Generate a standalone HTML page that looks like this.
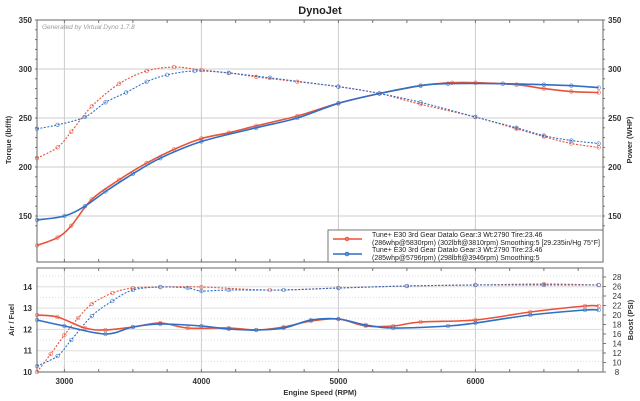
<!DOCTYPE html>
<html><head><meta charset="utf-8"><style>
body{margin:0;background:#fff;}
svg{display:block;font-family:"Liberation Sans",sans-serif;}
</style></head><body>
<svg id="s" width="640" height="401" xmlns="http://www.w3.org/2000/svg"></svg>
<script>
const s=document.getElementById('s');
let h='';
const X=r=>37+(r-2800)*0.137;
const YT=v=>20+(350-v)*0.98;
const L=37,R=603;
// title
h+=`<text x="320" y="14" font-size="11" font-weight="bold" text-anchor="middle" fill="#222">DynoJet</text>`;
// top panel grid
for(let v=150;v<=350;v+=50){let y=YT(v);h+=`<line x1="${L}" x2="${R}" y1="${y}" y2="${y}" stroke="#ccc"/>`;
h+=`<text x="${L-5}" y="${y+3}" font-size="8" font-weight="bold" text-anchor="end" fill="#333">${v}</text>`;
h+=`<text x="${R+5}" y="${y+3}" font-size="8" font-weight="bold" fill="#333">${v}</text>`;}
for(let v=140;v<=350;v+=10){let y=YT(v);h+=`<line x1="${L-2}" x2="${L}" y1="${y}" y2="${y}" stroke="#777"/><line x1="${R}" x2="${R+2}" y1="${y}" y2="${y}" stroke="#777"/>`;}
for(let r=3000;r<=6000;r+=1000){let x=X(r);h+=`<line x1="${x}" x2="${x}" y1="20" y2="262" stroke="#ccc"/><line x1="${x}" x2="${x}" y1="268" y2="372" stroke="#ccc"/>`;}
for(let r=3000;r<=6900;r+=250){let x=X(r);h+=`<line x1="${x}" x2="${x}" y1="20" y2="23" stroke="#777"/><line x1="${x}" x2="${x}" y1="259" y2="262" stroke="#777"/><line x1="${x}" x2="${x}" y1="268" y2="271" stroke="#777"/><line x1="${x}" x2="${x}" y1="369" y2="372" stroke="#777"/>`;}
h+=`<rect x="${L}" y="20" width="${R-L}" height="242" fill="none" stroke="#666"/>`;
h+=`<text x="42" y="29" font-size="6.5" font-style="italic" fill="#999">Generated by Virtual Dyno 1.7.8</text>`;
// bottom panel
const YB=a=>372-(a-10)*21.3;
for(let a=10;a<=14.5;a+=0.5){let y=YB(a);h+=`<line x1="${L}" x2="${R}" y1="${y}" y2="${y}" stroke="#ddd" ${a%1?'stroke-dasharray="1,2"':''}/>`;}
for(let a=10;a<=14;a++){let y=YB(a);h+=`<text x="${L-5}" y="${y+3}" font-size="8" font-weight="bold" text-anchor="end" fill="#333">${a}</text>`;}
for(let b=8;b<=28;b+=2){let y=372-(b-8)*4.75;h+=`<line x1="${R}" x2="${R+3}" y1="${y}" y2="${y}" stroke="#777"/><text x="${R+14}" y="${y+3}" font-size="8" text-anchor="middle" fill="#333">${b}</text>`;}
h+=`<rect x="${L}" y="268" width="${R-L}" height="104" fill="none" stroke="#666"/>`;
for(let r=3000;r<=6000;r+=1000)h+=`<text x="${X(r)}" y="384" font-size="8" font-weight="bold" text-anchor="middle" fill="#333">${r}</text>`;
h+=`<text x="320" y="395" font-size="7.5" font-weight="bold" text-anchor="middle" fill="#333">Engine Speed (RPM)</text>`;
h+=`<text transform="translate(11,140) rotate(-90)" font-size="7.5" font-weight="bold" text-anchor="middle" fill="#333">Torque (lbf/ft)</text>`;
h+=`<text transform="translate(632,140) rotate(-90)" font-size="7.5" font-weight="bold" text-anchor="middle" fill="#333">Power (WHP)</text>`;
h+=`<text transform="translate(14,320) rotate(-90)" font-size="7.5" font-weight="bold" text-anchor="middle" fill="#333">Air / Fuel</text>`;
h+=`<text transform="translate(633,320) rotate(-90)" font-size="7.5" font-weight="bold" text-anchor="middle" fill="#333">Boost (PSI)</text>`;
function path(pts,col,w,dash){
 let d=`M${pts[0][0]},${pts[0][1]}`;
 for(let i=0;i<pts.length-1;i++){const p0=pts[i-1]||pts[i],p1=pts[i],p2=pts[i+1],p3=pts[i+2]||p2;
  d+=` C${p1[0]+(p2[0]-p0[0])/6},${p1[1]+(p2[1]-p0[1])/6} ${p2[0]-(p3[0]-p1[0])/6},${p2[1]-(p3[1]-p1[1])/6} ${p2[0]},${p2[1]}`;}
 let o=`<path d="${d}" fill="none" stroke="${col}" stroke-width="${w}" ${dash?'stroke-dasharray="2,1.5"':''}/>`;
 pts.forEach(p=>o+=`<circle cx="${p[0]}" cy="${p[1]}" r="1.8" fill="none" stroke="${col}" stroke-width="0.7" opacity="0.8"/>`);
 return o;}
const RED='#e8533a',BLUE='#2f6fc4';
const T=(arr)=>arr.map(a=>[X(a[0]),YT(a[1])]);
const B=(arr)=>arr.map(a=>[X(a[0]),a[1]]);
// torque dotted
h+=path(T([[2800,209],[2950,220],[3050,236],[3200,262],[3400,285],[3600,298],[3800,302],[4000,299],[4200,296],[4400,292],[4700,287],[5000,282],[5300,275],[5600,264],[6000,251],[6300,239],[6500,231],[6700,224],[6900,220]]),RED,1.1,1);
h+=path(T([[2800,239],[2950,243],[3150,251],[3300,266],[3450,276],[3600,287],[3750,294],[3950,298],[4200,296],[4500,291],[5000,282],[5300,275],[5600,266],[6000,251],[6300,240],[6500,232],[6700,227],[6900,224]]),BLUE,1.1,1);
// power solid
h+=path(T([[2800,120],[2950,128],[3050,140],[3200,167],[3400,187],[3600,204],[3800,218],[4000,229],[4200,235],[4400,242],[4700,252],[5000,265],[5300,275],[5600,283],[5830,286],[6000,286],[6300,284],[6500,280],[6700,277],[6900,276]]),RED,1.6,0);
h+=path(T([[2800,146],[3000,150],[3150,160],[3300,175],[3500,193],[3700,209],[4000,226],[4400,240],[4700,250],[5000,265],[5300,275],[5600,283],[5800,285],[6200,285],[6500,284],[6700,283],[6900,281]]),BLUE,1.6,0);
// bottom dotted
h+=path(B([[2800,372],[2900,354],[3000,335],[3100,318],[3200,304],[3350,293],[3500,288],[3700,287],[4000,287],[4500,290],[5000,288],[5500,286],[6000,285],[6500,284],[6900,285]]),RED,1.1,1);
h+=path(B([[2800,366],[2950,356],[3050,340],[3200,316],[3350,301],[3500,290],[3700,287],[3900,288],[4000,291],[4200,290],[4600,290],[5000,288],[5500,286],[6000,285],[6500,285],[6900,285]]),BLUE,1.1,1);
// bottom solid
h+=path(B([[2800,315],[2950,317],[3150,328],[3300,330],[3500,327],[3700,323],[3900,328],[4200,328],[4400,330],[4600,327],[4800,321],[5000,319],[5200,326],[5400,326],[5600,322],[6000,320],[6400,312],[6800,306],[6900,306]]),RED,1.6,0);
h+=path(B([[2800,320],[3000,326],[3300,334],[3500,327],[3700,324],[4000,326],[4200,329],[4400,330],[4600,328],[4800,320],[5000,319],[5200,325],[5400,328],[5800,326],[6000,323],[6400,315],[6800,310],[6900,310]]),BLUE,1.6,0);
// legend
h+=`<rect x="328" y="230" width="275" height="32" fill="#fff" stroke="#555" stroke-width="0.8"/>`;
h+=`<line x1="333" x2="362" y1="239" y2="239" stroke="${RED}" stroke-width="1.6"/><circle cx="347" cy="239" r="1.8" fill="none" stroke="${RED}"/>`;
h+=`<line x1="333" x2="362" y1="254" y2="254" stroke="${BLUE}" stroke-width="1.6"/><circle cx="347" cy="254" r="1.8" fill="none" stroke="${BLUE}"/>`;
const lt=(y,t)=>h+=`<text x="372" y="${y}" font-size="7" fill="#222">${t}</text>`;
lt(237,'Tune+ E30 3rd Gear Datalo Gear:3 Wt:2790 Tire:23.46');
lt(245,'(286whp@5830rpm) (302lbft@3810rpm) Smoothing:5 [29.235in/Hg 75°F]');
lt(252,'Tune+ E30 3rd Gear Datalo Gear:3 Wt:2790 Tire:23.46');
lt(260,'(285whp@5796rpm) (298lbft@3946rpm) Smoothing:5');
s.innerHTML=h;
</script>
</body></html>
